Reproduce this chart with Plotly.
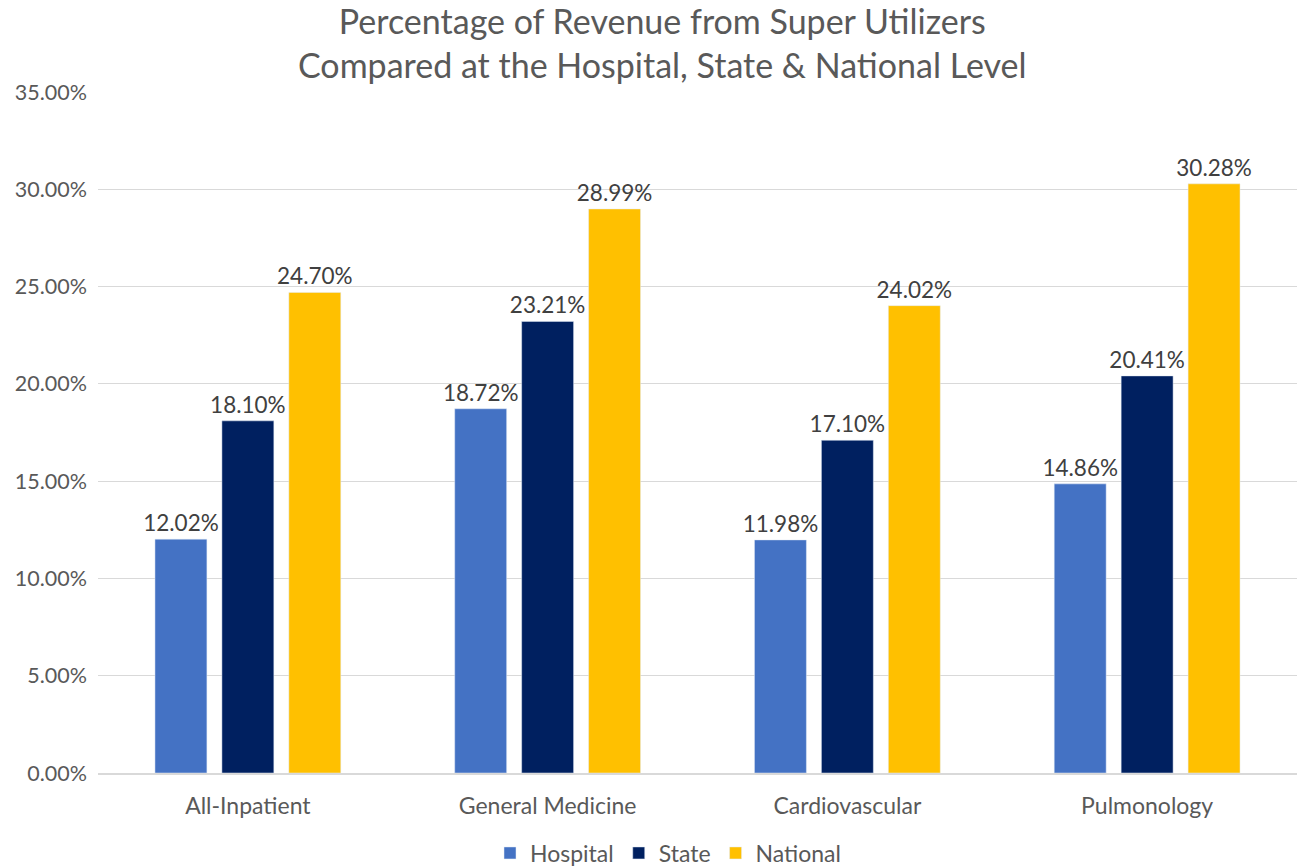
import plotly.graph_objects as go

categories = ["All-Inpatient", "General Medicine", "Cardiovascular", "Pulmonology"]
hospital = [0.1202, 0.1872, 0.1198, 0.1486]
state = [0.1810, 0.2321, 0.1710, 0.2041]
national = [0.2470, 0.2899, 0.2402, 0.3028]

series = [
    ("Hospital", hospital, "#4472C4"),
    ("State", state, "#002060"),
    ("National", national, "#FFC000"),
]

FONT = "Lato, Open Sans, sans-serif"
W, H = 1297, 866
L, R, T = 98, 0, 92
B = H - T - 681

fig = go.Figure()
for name, vals, color in series:
    fig.add_trace(go.Bar(
        name=name, x=categories, y=vals, marker_color=color,
        texttemplate="%{y:.2%}", textposition="outside", cliponaxis=False,
        constraintext="none",
        textfont=dict(size=22.5, color="#404040", family=FONT),
    ))

fig.update_layout(
    width=W, height=H,
    paper_bgcolor="white", plot_bgcolor="white",
    barmode="group", bargap=0.33, bargroupgap=0.224,
    margin=dict(l=L, r=R, t=T, b=B),
    font=dict(family=FONT, color="#595959"),
    legend=dict(
        orientation="h", x=(668 - L) / (W - L - R), xanchor="center",
        yref="container", y=(H - 853) / H, yanchor="middle",
        font=dict(size=23, color="#595959", family=FONT),
        traceorder="normal", itemwidth=30,
    ),
    yaxis=dict(
        range=[0, 0.35], dtick=0.05, tickformat=".2%",
        showgrid=True, gridcolor="#D9D9D9", gridwidth=1.3,
        zeroline=False, showline=False, automargin=False,
        tickfont=dict(size=21.5, color="#595959"), ticks="",
        ticklabelstandoff=10,
    ),
    xaxis=dict(
        showline=True, linecolor="#D9D9D9", linewidth=1.5, automargin=False,
        tickfont=dict(size=23, color="#595959"), ticks="",
        ticklabelstandoff=12,
    ),
    annotations=[dict(
        text="Percentage of Revenue from Super Utilizers<br>Compared at the Hospital, State & National Level",
        xref="paper", yref="paper",
        x=(662 - L) / (W - L - R), y=1 + (T - 42) / (H - T - B),
        xanchor="center", yanchor="middle", showarrow=False,
        font=dict(size=34, color="#595959", family=FONT),
    )],
)

fig.write_html(
    "out.html",
    config={"displayModeBar": False},
    post_script="document.body.style.margin='0';",
)
